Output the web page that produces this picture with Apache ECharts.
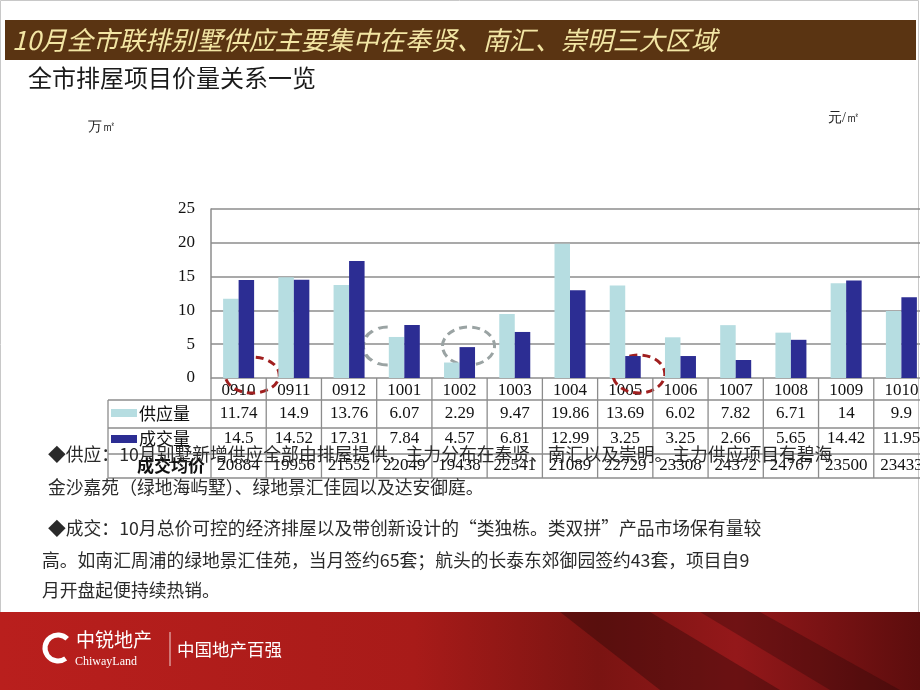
<!DOCTYPE html>
<html><head><meta charset="utf-8">
<script src="https://cdn.jsdelivr.net/npm/echarts@6/dist/echarts.min.js"></script>
<style>html,body{margin:0;padding:0;overflow:hidden;background:#fff;width:920px;height:690px}#c{width:940px;height:690px}</style>
</head><body><div id="c"></div>
<script>
const categories = ['0910','0911','0912','1001','1002','1003','1004','1005','1006','1007','1008','1009','1010'];
const supply = [11.74,14.9,13.76,6.07,2.29,9.47,19.86,13.69,6.02,7.82,6.71,14,9.9];
const deal = [14.5,14.52,17.31,7.84,4.57,6.81,12.99,3.25,3.25,2.66,5.65,14.42,11.95];
const avgPrice = [20884,19956,21552,22049,19438,22541,21089,22729,23308,24372,24767,23500,23433];
const rowNames = ['供应量','成交量','成交均价'];
const yMin = 0, yMax = 25, yStep = 5;

const SERIF = 'Liberation Serif';
const LIGHT = '#b6dde1', DARK = '#2c2d93', GRID = '#8c8c8c';

const chart = echarts.init(document.getElementById('c'));
chart.setOption({
  animation:false,
  backgroundColor:'#fff',
  grid:{left:211, top:209, width:718, height:169},
  xAxis:{type:'category', data:categories, axisLine:{show:false}, axisTick:{show:false},
    axisLabel:{margin:4, fontFamily:SERIF, fontSize:17, color:'#111'}},
  yAxis:{type:'value', min:yMin, max:yMax, interval:yStep,
    axisLine:{show:true, lineStyle:{color:GRID, width:1.5}}, axisTick:{show:false},
    splitLine:{lineStyle:{color:GRID, width:1.5}},
    axisLabel:{margin:16, fontFamily:SERIF, fontSize:17, color:'#111'}},
  series:[
    {type:'bar', name:rowNames[0], data:supply, barWidth:15.5, barGap:'0%', itemStyle:{color:LIGHT}, z:3},
    {type:'bar', name:rowNames[1], data:deal, barWidth:15.5, barGap:'0%', itemStyle:{color:DARK}, z:3}
  ]
});

const c0 = chart.convertToPixel({xAxisIndex:0}, 0);
const c1 = chart.convertToPixel({xAxisIndex:0}, 1);
const bw = c1 - c0;
const y0 = chart.convertToPixel({yAxisIndex:0}, 0);
const g = [];
g.push({type:'rect', shape:{x:0.5,y:0.5,width:918,height:688}, style:{fill:'none', stroke:'#c8c8c8', lineWidth:1}, z:-5, silent:true});
g.push({type:'rect', shape:{x:5,y:20,width:911,height:40}, style:{fill:'#5a3412'}, z:-4});
g.push({type:'text', x:12, y:40, style:{text:'10月全市联排别墅供应主要集中在奉贤、南汇、崇明三大区域', font:'italic 26px "Noto Sans CJK SC"', fill:'#f3e6a4', textVerticalAlign:'middle'}, z:5});
g.push({type:'text', x:28, y:78, style:{text:'全市排屋项目价量关系一览', font:'24px "Noto Sans CJK SC"', fill:'#1a1a1a', textVerticalAlign:'middle'}, z:5});
g.push({type:'text', x:88, y:127, style:{text:'万㎡', font:'14px "Liberation Serif"', fill:'#222', textVerticalAlign:'middle'}, z:5});
g.push({type:'text', x:828, y:118, style:{text:'元/㎡', font:'14px "Liberation Serif"', fill:'#222', textVerticalAlign:'middle'}, z:5});

// data table
const rowLines = [400, 428, 454, 478];
const right = 940;
rowLines.forEach(y => g.push({type:'line', shape:{x1:108,y1:y,x2:right,y2:y}, style:{stroke:GRID, lineWidth:1.3}, z:6}));
g.push({type:'line', shape:{x1:108,y1:400,x2:108,y2:478}, style:{stroke:GRID, lineWidth:1.3}, z:6});
for (let i=0;i<=categories.length;i++){
  const x = c0 - bw/2 + i*bw;
  g.push({type:'line', shape:{x1:x,y1:y0,x2:x,y2:478}, style:{stroke:GRID, lineWidth:1.3}, z:6});
}
const rowY = [414, 439, 466];
const rows = [supply, deal, avgPrice];
rows.forEach((arr, r) => arr.forEach((v, i) => {
  g.push({type:'text', x:c0 + i*bw, y:rowY[r], style:{text:String(v), font:'17px "Liberation Serif"', fill:'#111', textAlign:'center', textVerticalAlign:'middle'}, z:7});
}));
g.push({type:'rect', shape:{x:111,y:409,width:26,height:8}, style:{fill:LIGHT}, z:7});
g.push({type:'rect', shape:{x:111,y:435,width:26,height:8}, style:{fill:DARK}, z:7});
g.push({type:'text', x:139, y:414, style:{text:rowNames[0], font:'17px "Noto Sans CJK SC"', fill:'#111', textVerticalAlign:'middle'}, z:7});
g.push({type:'text', x:139, y:439, style:{text:rowNames[1], font:'17px "Noto Sans CJK SC"', fill:'#111', textVerticalAlign:'middle'}, z:7});
g.push({type:'text', x:137, y:466, style:{text:rowNames[2], font:'bold 17px "Noto Sans CJK SC"', fill:'#111', textVerticalAlign:'middle'}, z:7});

// dashed annotation ellipses
const bnd = i => c0 - bw/2 + i*bw;
g.push({type:'ellipse', shape:{cx:bnd(1)-14, cy:375, rx:27, ry:18}, style:{fill:'none', stroke:'#a01f1f', lineWidth:3, lineDash:[8,5]}, z:1});
g.push({type:'ellipse', shape:{cx:bnd(8)-14, cy:374, rx:26, ry:19}, style:{fill:'none', stroke:'#a01f1f', lineWidth:3, lineDash:[8,5]}, z:1});
g.push({type:'ellipse', shape:{cx:c0+4*bw+9, cy:346, rx:26, ry:19}, style:{fill:'none', stroke:'#9aa3a3', lineWidth:3, lineDash:[8,5]}, z:1});
g.push({type:'arc', x:bnd(3)+11, y:346, scaleX:1.3, scaleY:1, shape:{cx:0, cy:0, r:19, startAngle:Math.PI*0.5, endAngle:Math.PI*1.5, clockwise:true}, style:{fill:'none', stroke:'#9aa3a3', lineWidth:3, lineDash:[8,5]}, z:1});

// paragraphs
const pf = '17.8px "Noto Sans CJK SC"';
const para = [
  [48, 454, '◆供应：10月别墅新增供应全部由排屋提供，主力分布在奉贤、南汇以及崇明。主力供应项目有碧海'],
  [48, 487, '金沙嘉苑（绿地海屿墅）、绿地景汇佳园以及达安御庭。'],
  [48, 528, '◆成交：10月总价可控的经济排屋以及带创新设计的“类独栋。类双拼”产品市场保有量较'],
  [42, 560, '高。如南汇周浦的绿地景汇佳苑，当月签约65套；航头的长泰东郊御园签约43套，项目自9'],
  [42, 590, '月开盘起便持续热销。']
];
para.forEach(p => g.push({type:'text', x:p[0], y:p[1], style:{text:p[2], font:pf, fill:'#2a2a2a', textVerticalAlign:'middle'}, z:8}));

// footer
g.push({type:'rect', shape:{x:0,y:612,width:920,height:78}, style:{fill:new echarts.graphic.LinearGradient(0,0,1,0,[
  {offset:0,color:'#b91f1d'},{offset:0.45,color:'#a81b19'},{offset:0.65,color:'#7a1412'},{offset:0.8,color:'#94181a'},{offset:1,color:'#5c0d0d'}])}, z:-4});
g.push({type:'polygon', shape:{points:[[560,612],[650,612],[780,690],[660,690]]}, style:{fill:'rgba(30,5,5,0.35)'}, z:-3});
g.push({type:'polygon', shape:{points:[[700,612],[760,612],[900,690],[830,690]]}, style:{fill:'rgba(30,5,5,0.3)'}, z:-3});
g.push({type:'arc', shape:{cx:58, cy:648, r:13, startAngle:Math.PI*0.3, endAngle:Math.PI*1.75, clockwise:true}, style:{fill:'none', stroke:'#fff', lineWidth:5}, z:5});
g.push({type:'text', x:76, y:640, style:{text:'中锐地产', font:'19px "Noto Sans CJK SC"', fill:'#fff', textVerticalAlign:'middle'}, z:5});
g.push({type:'text', x:75, y:662, style:{text:'ChiwayLand', font:'12px "Liberation Serif"', fill:'#fff', textVerticalAlign:'middle'}, z:5});
g.push({type:'line', shape:{x1:170,y1:632,x2:170,y2:666}, style:{stroke:'rgba(255,255,255,0.8)', lineWidth:1}, z:5});
g.push({type:'text', x:177, y:649, style:{text:'中国地产百强', font:'17.5px "Noto Sans CJK SC"', fill:'#fff', textVerticalAlign:'middle'}, z:5});

chart.setOption({graphic:{elements:g}});
</script></body></html>
